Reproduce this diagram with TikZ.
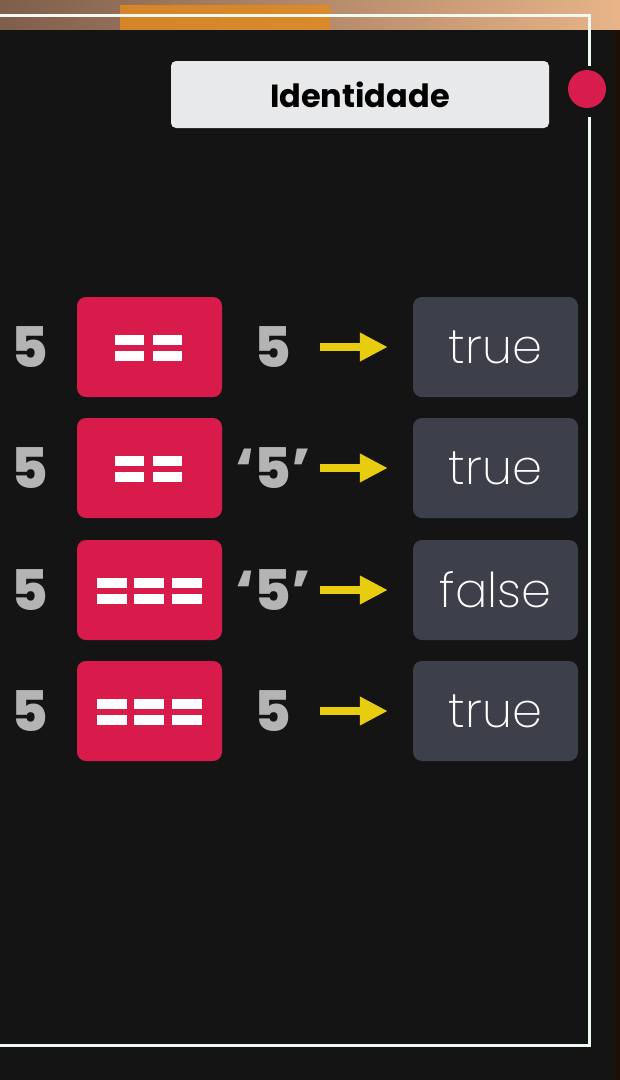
\documentclass[tikz,border=0pt]{standalone}
\usepackage{fontspec}
\setmainfont{Poppins}
\newfontfamily\boldf{Poppins Bold}
\newfontfamily\blackf{Poppins ExtraBold}
\newfontfamily\lightf{Poppins ExtraLight}
\usetikzlibrary{arrows.meta}
\definecolor{bgdark}{HTML}{141414}
\definecolor{opred}{HTML}{D81B4B}
\definecolor{resgray}{HTML}{3D3F4B}
\definecolor{numgray}{HTML}{B4B4B4}
\definecolor{arrowy}{HTML}{E8CC10}
\definecolor{topbrown}{HTML}{7E5E4C}
\definecolor{toppeach}{HTML}{E8B488}
\definecolor{blob}{HTML}{E08A20}
\definecolor{titlebg}{HTML}{E8E9EA}
\definecolor{dotred}{HTML}{D81C4E}
\definecolor{framecol}{HTML}{F0FAF0}
\begin{document}
\begin{tikzpicture}[x=1pt,y=-1pt,
  opbox/.style={fill=opred,rounded corners=9pt,minimum width=145pt,minimum height=100pt,inner sep=0pt},
  resbox/.style={fill=resgray,rounded corners=9pt,minimum width=165pt,minimum height=100pt,inner sep=0pt,text=white,font=\lightf\fontsize{48}{48}\selectfont},
  numtxt/.style={text=numgray,font=\blackf\fontsize{56}{56}\selectfont,inner sep=0pt},
  bar/.style={fill=white},
  yarrow/.style={draw=arrowy,line width=8pt,-{Triangle[length=28pt,width=27pt]}},
  frameline/.style={draw=framecol,line width=3pt}]
\useasboundingbox (0,0) rectangle (620,1080);
% backgrounds
\shade[left color=topbrown,right color=toppeach] (0,0) rectangle (620,32);
\fill[blob,opacity=0.85] (120,5) rectangle (330,32);
\fill[bgdark] (0,30) rectangle (615,1080);
\fill[black!88!orange] (615,30) rectangle (620,1080);
% frame lines
\draw[frameline] (0,15) -- (589,15) -- (589,66);
\draw[frameline] (589,117) -- (589,1045) -- (0,1045);
% red dot
\fill[dotred] (587,89) circle[radius=19pt];
% title
\node[fill=titlebg,rounded corners=5pt,minimum width=378pt,minimum height=67pt,inner sep=0pt,
  font=\boldf\fontsize{32}{32}\selectfont,text=black] (title) at (360,94.5) {Identidade};
% rows
\foreach \i/\y/\rhs/\res in {1/347/5/true,2/468/{‘5’}/true,3/590/{‘5’}/false,4/711/5/true}{
  \node[numtxt] (l\i) at (30,\y) {5};
  \node[opbox] (op\i) at (149.5,\y) {};
  \node[numtxt,anchor=center] (r\i) at (273,\y) {\rhs};
  \node[resbox] (res\i) at (495.5,\y) {\res};
  \coordinate (as\i) at (320,\y);
  \draw[yarrow] (as\i) -- ([xshift=-25pt]res\i.west);
}
% equals bars
\foreach \y in {347,468}{
  \foreach \x in {115,153}{
    \fill[bar] (\x,\y-12) rectangle ++(29,10);
    \fill[bar] (\x,\y+4) rectangle ++(29,10);
  }
}
\foreach \y in {590,711}{
  \foreach \x in {97,134,172}{
    \fill[bar] (\x,\y-12) rectangle ++(30,10);
    \fill[bar] (\x,\y+4) rectangle ++(30,10);
  }
}
\end{tikzpicture}
\end{document}
